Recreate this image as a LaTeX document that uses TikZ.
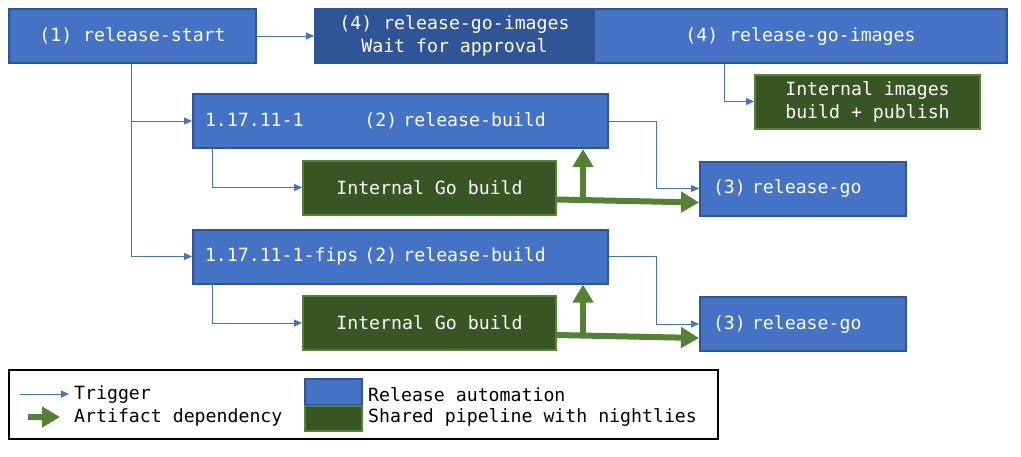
\documentclass[tikz,border=0pt]{standalone}
\usepackage{fontspec}
\setmainfont{DejaVu Sans Mono}
\usetikzlibrary{arrows.meta,calc}
\definecolor{relblue}{HTML}{4472C4}
\definecolor{reldark}{HTML}{2F5597}
\definecolor{pipegreen}{HTML}{375623}
\definecolor{artgreen}{HTML}{548235}

\begin{document}
\begin{tikzpicture}[x=1pt,y=-1pt,
		every node/.style={font=\fontsize{18.2}{23}\selectfont, text=white, inner sep=0pt},
		relbox/.style={draw=reldark, line width=2pt, fill=relblue, minimum height=54pt, align=center},
		pipebox/.style={draw=artgreen, line width=2pt, fill=pipegreen, minimum height=54pt, align=center},
		trigger/.style={draw=relblue, line width=1pt, -{Triangle[width=7pt,length=8pt]}},
		artifact/.style={draw=artgreen, line width=6pt, -{Triangle[width=20pt,length=18pt]}}]
		\fill [white] (0,0) rectangle (1021,456);
		\useasboundingbox (0,0) rectangle (1021,456);
		% top row
		\node [relbox, minimum width=247pt] (start) at (132.5,36) {(1) release-start};
		\node [relbox, fill=reldark, minimum width=279pt] (approval) at (454.5,36) {(4) release-go-images\\Wait for approval};
		\node [relbox, minimum width=413pt] (images) at (800.5,36) {(4) release-go-images};
		\node [pipebox, minimum width=225pt] (intimg) at (867.5,101.5) {Internal images\\build + publish};
		% first build
		\node [relbox, text width=391pt, inner xsep=12pt, align=left] (build1) at (400.5,121) {1.17.11-1\phantom{-fips} (2) release-build};
		\node [pipebox, minimum width=253pt] (gobuild1) at (429.5,187.5) {Internal Go build};
		\node [relbox, text width=180pt, inner xsep=13pt, align=left] (relgo1) at (803,188.5) {(3) release-go};
		% fips build
		\node [relbox, text width=391pt, inner xsep=12pt, align=left] (build2) at (400.5,256.5) {1.17.11-1-fips (2) release-build};
		\node [pipebox, minimum width=253pt] (gobuild2) at (429.5,323) {Internal Go build};
		\node [relbox, text width=180pt, inner xsep=13pt, align=left] (relgo2) at (803,324) {(3) release-go};
		% triggers
		\draw [trigger] (start.east) -- (approval.west);
		\draw [trigger] ([xshift=131pt]images.south west) |- (intimg.west);
		\draw [trigger] ([xshift=-1.5pt]start.south) |- (build1.west);
		\draw [trigger] ([xshift=-1.5pt]start.south) |- (build2.west);
		\draw [trigger] ([xshift=20pt]build1.south west) |- (gobuild1.west);
		\draw [trigger] ([xshift=20pt]build2.south west) |- (gobuild2.west);
		\draw [trigger] (build1.east) -- ++(47,0) |- (relgo1.west);
		\draw [trigger] (build2.east) -- ++(47,0) |- (relgo2.west);
		% artifacts
		\coordinate (fork1) at ($(gobuild1.east)+(26,12.5)$);
		\coordinate (fork2) at ($(gobuild2.east)+(26,12.5)$);
		\draw [artifact] ($(gobuild1.east)+(0,12)$) -- ($(relgo1.west)+(0,14)$);
		\draw [artifact] (fork1) -- (fork1 |- build1.south);
		\draw [artifact] ($(gobuild2.east)+(0,12)$) -- ($(relgo2.west)+(0,14)$);
		\draw [artifact] (fork2) -- (fork2 |- build2.south);
		% legend
		\node [draw=black, line width=2pt, minimum width=709pt, minimum height=69pt] (legend) at (363.5,404.5) {};
		\coordinate (trigA) at (20,394);
		\coordinate (trigB) at (69,394);
		\coordinate (artA) at (28,417);
		\coordinate (artB) at (60,417);
		\draw [trigger] (trigA) -- (trigB);
		\draw [artifact] (artA) -- (artB);
		\node [text=black, anchor=west] (trigtxt) at (74,395) {Trigger};
		\node [text=black, anchor=west] (arttxt) at (74,417) {Artifact dependency};
		\node [relbox, minimum width=57pt, minimum height=26pt] (relkey) at (333.5,392) {};
		\node [pipebox, minimum width=57pt, minimum height=25pt] (pipekey) at (333.5,418.5) {};
		\node [text=black, anchor=west] (reltxt) at (368,395) {Release automation};
		\node [text=black, anchor=west] (pipetxt) at (368,417) {Shared pipeline with nightlies};
	\end{tikzpicture}
\end{document}
